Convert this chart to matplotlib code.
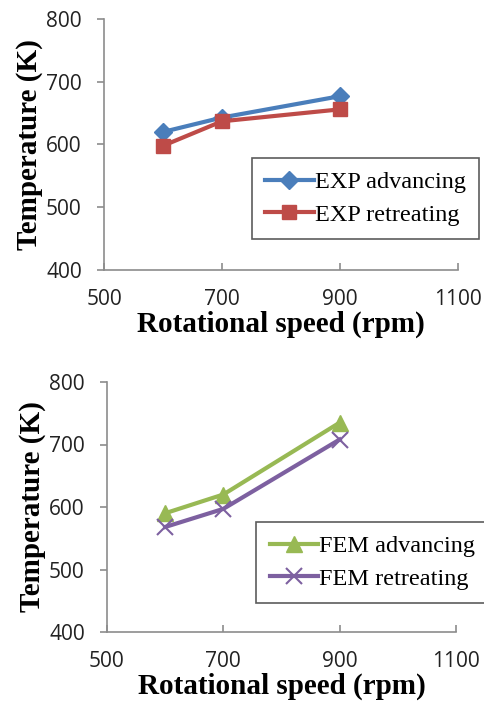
import matplotlib
matplotlib.use("Agg")
import matplotlib.pyplot as plt

speed = [600, 700, 900]
exp_adv = [620, 643, 677]
exp_ret = [598, 637, 656]
fem_adv = [590, 620, 735]
fem_ret = [568, 597, 708]
xticks = [500, 700, 900, 1100]
yticks = [400, 500, 600, 700, 800]

W, H = 485, 702
fig = plt.figure(figsize=(W/100, H/100), dpi=100)

def px_axes(l, r, t, b):
    return fig.add_axes([l/W, 1-b/H, (r-l)/W, (b-t)/H])

serif = "Liberation Serif"
tickfont = "Open Sans"
spine_c = "#8c8c8c"

def style(ax):
    ax.set_xlim(500, 1100)
    ax.set_ylim(400, 800)
    ax.set_xticks(xticks)
    ax.set_yticks(yticks)
    for s in ["top", "right"]:
        ax.spines[s].set_visible(False)
    for s in ["left", "bottom"]:
        ax.spines[s].set_color(spine_c)
        ax.spines[s].set_linewidth(1.2)
    ax.tick_params(axis="x", direction="in", length=5, color=spine_c, width=1.2, pad=14)
    ax.tick_params(axis="y", direction="out", length=5, color=spine_c, width=1.2, pad=11)
    for lab in ax.get_xticklabels() + ax.get_yticklabels():
        lab.set_fontfamily(tickfont)
        lab.set_fontsize(15)
        lab.set_color("#222222")
    ax.set_xlabel("Rotational speed (rpm)", fontfamily=serif, fontweight="bold", fontsize=21, labelpad=0)
    ax.set_ylabel("Temperature (K)", fontfamily=serif, fontweight="bold", fontsize=21, labelpad=2)

def legend(ax, cx, cy):
    leg = ax.legend(loc="center", bbox_to_anchor=(cx/W, 1-cy/H), bbox_transform=fig.transFigure,
                    prop={"family": serif, "size": 17.5}, frameon=True, fancybox=False,
                    edgecolor="#333333", handlelength=2.0, handletextpad=0.05, borderpad=0.55,
                    labelspacing=0.45, borderaxespad=0)
    leg.get_frame().set_linewidth(1.2)
    return leg

ax1 = px_axes(104, 458, 19, 270)
ax1.plot(speed, exp_adv, color="#4a7ebb", lw=3, marker="D", ms=9, label="EXP advancing", clip_on=False)
ax1.plot(speed, exp_ret, color="#be4b48", lw=3, marker="s", ms=10, label="EXP retreating", clip_on=False)
style(ax1)
legend(ax1, 365.5, 198.5)

ax2 = px_axes(107, 456, 382, 632)
ax2.plot(speed, fem_adv, color="#98b954", lw=3, marker="^", ms=11, label="FEM advancing", clip_on=False)
ax2.plot(speed, fem_ret, color="#7d60a0", lw=3, marker="x", ms=11, mew=1.5, label="FEM retreating", clip_on=False)
style(ax2)
legend(ax2, 372.5, 562.5)

fig.savefig("out.png", dpi=100)
